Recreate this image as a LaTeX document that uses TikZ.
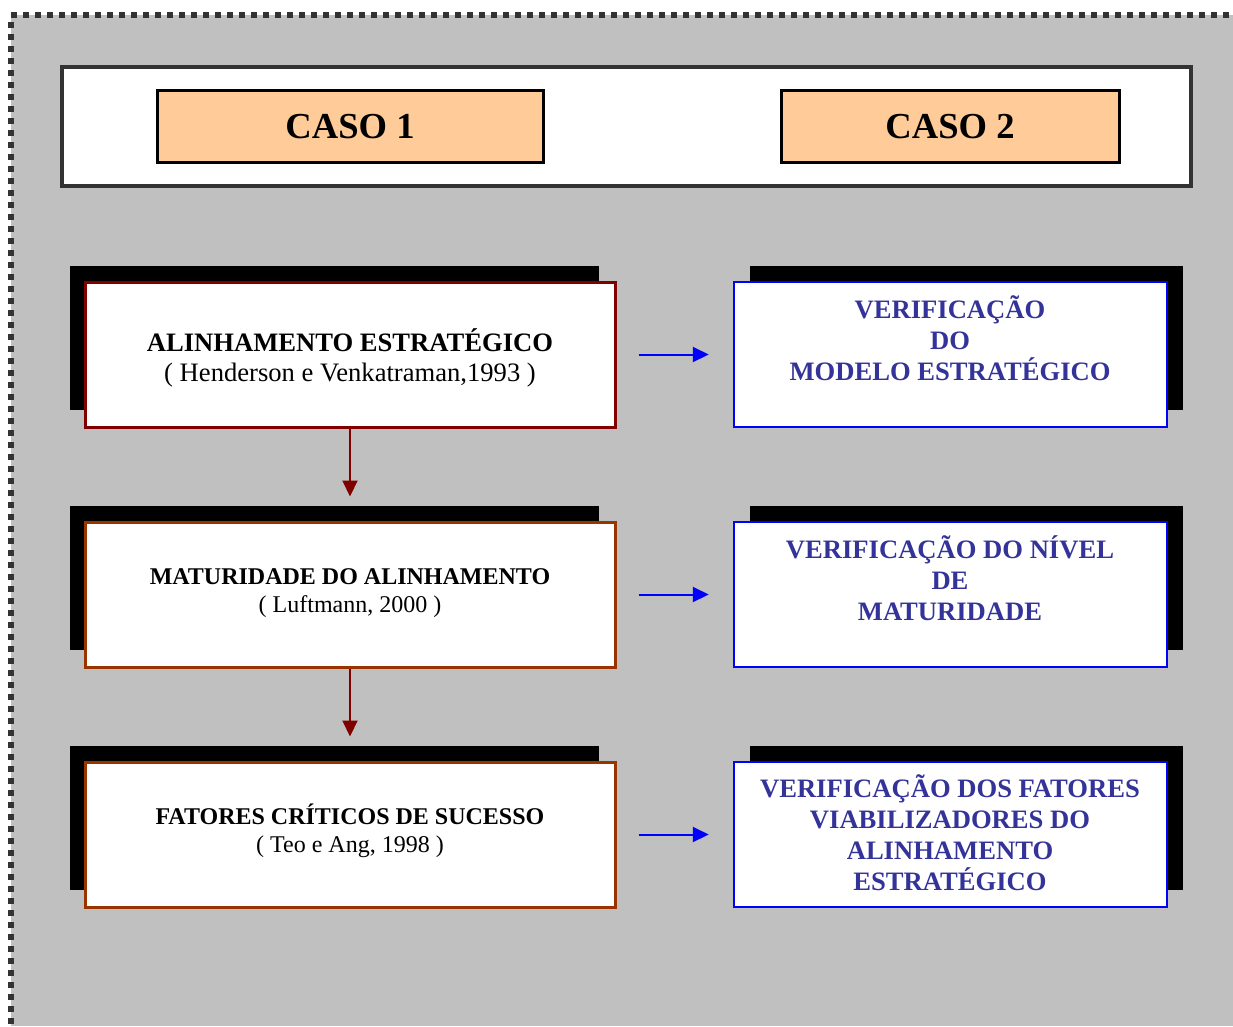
\documentclass[tikz,border=0pt]{standalone}
\usepackage{fontspec}
\setmainfont{Liberation Serif}
\usetikzlibrary{arrows.meta,calc}

\definecolor{panelgray}{HTML}{C0C0C0}
\definecolor{framegray}{HTML}{333333}
\definecolor{casefill}{HTML}{FFCC99}
\definecolor{darkred}{HTML}{800000}
\definecolor{rust}{HTML}{993300}
\definecolor{navytext}{HTML}{333399}
\definecolor{pureblue}{HTML}{0000FF}

\tikzset{
  casebox/.style={draw=black, line width=3pt, fill=casefill, minimum width=386pt, minimum height=72pt, inner sep=0pt},
  theorybox/.style={draw=#1, line width=3pt, fill=white, minimum width=530pt, minimum height=145pt, inner sep=0pt},
  checkbox/.style={draw=pureblue, line width=2.5pt, fill=white, minimum width=433pt, minimum height=145pt, inner sep=0pt},
  theorytext/.style={align=center, inner sep=0pt, anchor=base},
  checktext/.style={align=center, inner sep=0pt, anchor=base, text=navytext,
    font=\fontsize{26.6}{31}\selectfont\bfseries},
  flowarrow/.style={draw=darkred, line width=2pt, -{Triangle[length=16pt,width=15pt]}},
  linkarrow/.style={draw=pureblue, line width=2pt, -{Triangle[length=16pt,width=15pt]}},
}

\begin{document}
\begin{tikzpicture}[x=1pt,y=-1pt]
  \useasboundingbox (0,0) rectangle (1233,1026);

  % grey panel with its dotted frame on the top and left edges
  \fill[panelgray] (11,15) rectangle (1233,1026);
  \draw[framegray, line width=5.5pt, dash pattern=on 5.5pt off 6.5pt] (11,15) -- (1233,15);
  \draw[framegray, line width=5.5pt, dash pattern=on 5.5pt off 6.5pt] (11,22) -- (11,1026);

  % header with the two cases
  \node[draw=framegray, line width=4pt, fill=white, minimum width=1129pt, minimum height=119pt, inner sep=0pt]
    (header) at (626.5,126.5) {};
  \node[casebox, minimum width=386pt] (caso1) at (350,126) {};
  \node[casebox, minimum width=338pt] (caso2) at (950,126) {};
  \node[inner sep=0pt, anchor=base, font=\fontsize{36.6}{40}\selectfont\bfseries] (caso1t) at (350,138) {CASO 1};
  \node[inner sep=0pt, anchor=base, font=\fontsize{36.6}{40}\selectfont\bfseries] (caso2t) at (950,138) {CASO 2};

  % drop shadows of the six boxes
  \foreach \y in {0,240,480} {
    \fill[black] (70,266+\y) rectangle (599,410+\y);
    \fill[black] (750,266+\y) rectangle (1183,410+\y);
  }

  % theoretical framework (left column)
  \node[theorybox=darkred] (alin) at (350,354.5) {};
  \node[theorybox=rust] (matur) at (350,594.5) {};
  \node[theorybox=rust] (fcs) at (350,834.5) {};

  \node[theorytext, font=\fontsize{26.6}{30}\selectfont] (alint) at (350,381)
    {\textbf{ALINHAMENTO ESTRATÉGICO}\\( Henderson e Venkatraman,1993 )};
  \node[theorytext, font=\fontsize{24}{28}\selectfont] (maturt) at (350,612)
    {\textbf{MATURIDADE DO ALINHAMENTO}\\( Luftmann, 2000 )};
  \node[theorytext, font=\fontsize{24}{28}\selectfont] (fcst) at (350,852)
    {\textbf{FATORES CRÍTICOS DE SUCESSO}\\( Teo e Ang, 1998 )};

  % verification steps (right column)
  \node[checkbox] (vmod) at (950.5,354.5) {};
  \node[checkbox] (vniv) at (950.5,594.5) {};
  \node[checkbox] (vfat) at (950.5,834.5) {};

  \node[checktext] (vmodt) at (950,380) {VERIFICAÇÃO\\DO\\MODELO ESTRATÉGICO};
  \node[checktext] (vnivt) at (950,620) {VERIFICAÇÃO DO NÍVEL\\DE\\MATURIDADE};
  \node[checktext] (vfatt) at (950,890) {VERIFICAÇÃO DOS FATORES\\VIABILIZADORES DO\\ALINHAMENTO\\ESTRATÉGICO};

  % connectors
  \draw[flowarrow, shorten >=24pt] (alin.south) -- (matur.north);
  \draw[flowarrow, shorten >=24pt] (matur.south) -- (fcs.north);
  \draw[linkarrow, shorten <=22pt, shorten >=24pt] (alin.east) -- (vmod.west);
  \draw[linkarrow, shorten <=22pt, shorten >=24pt] (matur.east) -- (vniv.west);
  \draw[linkarrow, shorten <=22pt, shorten >=24pt] (fcs.east) -- (vfat.west);
\end{tikzpicture}
\end{document}
